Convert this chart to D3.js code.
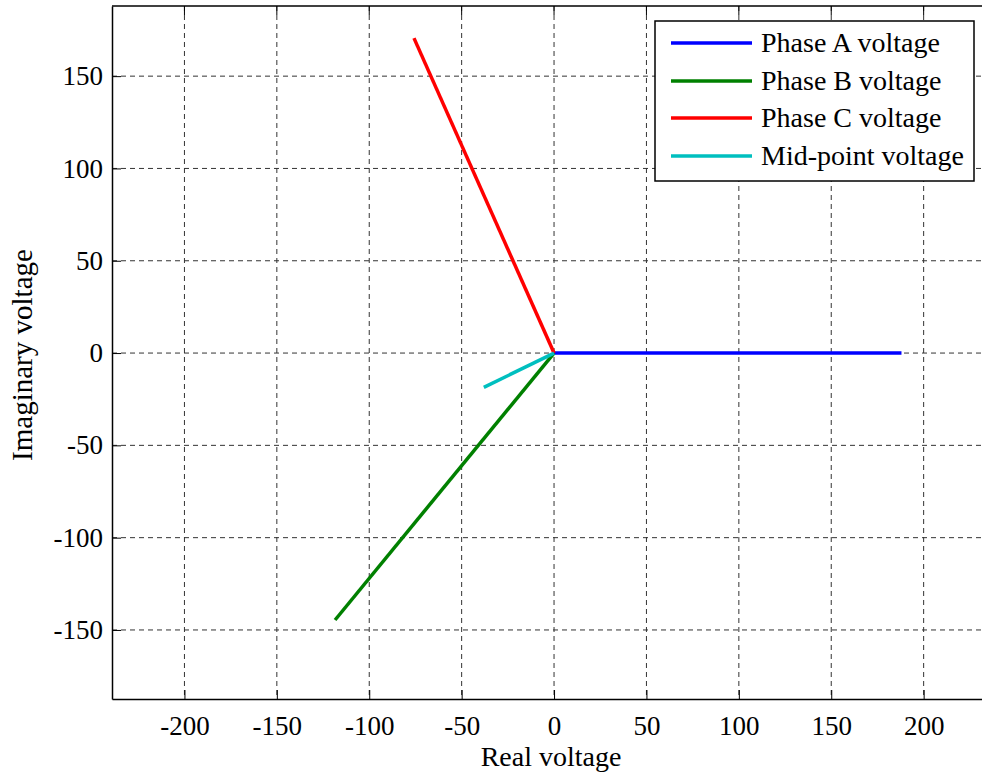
<!DOCTYPE html>
<html>
<head>
<meta charset="utf-8">
<script src="https://cdn.jsdelivr.net/npm/d3@7"></script>
<style>
  body { margin: 0; background: #fff; }
  svg { display: block; font-family: "Liberation Serif", "Times New Roman", serif; }
  svg text { font-family: "Liberation Serif", "Times New Roman", serif; }
</style>
</head>
<body>
<div id="chart-area"></div>
<script>
// phasor end points (start at origin)
const seriesNames = ["Phase A voltage", "Phase B voltage", "Phase C voltage", "Mid-point voltage"];
const seriesColors = ["#0000ff", "#008000", "#ff0000", "#00bfbf"];
const realParts = [188, -118.5, -75.8, -38];
const imagParts = [0, -144.6, 170.6, -18.6];
const xTicks = [-200, -150, -100, -50, 0, 50, 100, 150, 200];
const yTicks = [-150, -100, -50, 0, 50, 100, 150];

const w = 982, h = 775;
const pLeft = 112, pTop = 6, pRight = 985, pBottom = 699;

const svg = d3.select("#chart-area")
  .append("svg")
  .attr("width", w)
  .attr("height", h);

const x = d3.scaleLinear().domain([-239.2, 233.2]).range([pLeft, pRight]);
const y = d3.scaleLinear().domain([-187.4, 188]).range([pBottom, pTop]);

// grid
svg.append("g").selectAll("line")
  .data(xTicks)
  .enter().append("line")
  .attr("x1", d => x(d)).attr("x2", d => x(d))
  .attr("y1", pTop).attr("y2", pBottom)
  .attr("stroke", "#333").attr("stroke-width", 1)
  .attr("stroke-dasharray", "5,4");

svg.append("g").selectAll("line")
  .data(yTicks)
  .enter().append("line")
  .attr("x1", pLeft).attr("x2", pRight)
  .attr("y1", d => y(d)).attr("y2", d => y(d))
  .attr("stroke", "#333").attr("stroke-width", 1)
  .attr("stroke-dasharray", "5,4");

// axes with inward ticks
const fmt = d => String(d);
const xAxis = svg.append("g")
  .attr("transform", "translate(0," + pBottom + ")")
  .call(d3.axisBottom(x).tickValues(xTicks).tickFormat(fmt).tickSize(-9).tickPadding(17).tickSizeOuter(0));
const yAxis = svg.append("g")
  .attr("transform", "translate(" + pLeft + ",0)")
  .call(d3.axisLeft(y).tickValues(yTicks).tickFormat(fmt).tickSize(-9).tickPadding(9).tickSizeOuter(0));

[xAxis, yAxis].forEach(a => {
  a.attr("font-family", null).attr("font-size", 27);
  a.select(".domain").attr("stroke", "#000").attr("stroke-width", 1.5);
  a.selectAll(".tick line").attr("stroke", "#000");
  a.selectAll("text").attr("fill", "#000");
});
xAxis.selectAll("text").attr("dy", "0.71em");

// top border
svg.append("line")
  .attr("x1", pLeft).attr("x2", pRight)
  .attr("y1", pTop).attr("y2", pTop)
  .attr("stroke", "#000").attr("stroke-width", 1.5);
svg.append("g").selectAll("line")
  .data(xTicks).enter().append("line")
  .attr("x1", d => x(d)).attr("x2", d => x(d))
  .attr("y1", pTop).attr("y2", pTop + 9)
  .attr("stroke", "#000");

// phasors
svg.append("g").selectAll("line")
  .data(seriesNames)
  .enter().append("line")
  .attr("x1", x(0)).attr("y1", y(0))
  .attr("x2", (d, i) => x(realParts[i]))
  .attr("y2", (d, i) => y(imagParts[i]))
  .attr("stroke", (d, i) => seriesColors[i])
  .attr("stroke-width", 3.5);

// axis labels
svg.append("text")
  .attr("x", 551).attr("y", 766)
  .attr("text-anchor", "middle")
  .attr("font-size", 28)
  .text("Real voltage");

svg.append("text")
  .attr("transform", "translate(32,355) rotate(-90)")
  .attr("text-anchor", "middle")
  .attr("font-size", 29)
  .text("Imaginary voltage");

// legend
const legend = svg.append("g");
legend.append("rect")
  .attr("x", 655).attr("y", 21)
  .attr("width", 319).attr("height", 160)
  .attr("fill", "#fff").attr("stroke", "#000").attr("stroke-width", 1.5);

const rowY = [43, 81, 118, 156];
legend.selectAll("line.item")
  .data(seriesNames).enter().append("line")
  .attr("x1", 671).attr("x2", 752)
  .attr("y1", (d, i) => rowY[i]).attr("y2", (d, i) => rowY[i])
  .attr("stroke", (d, i) => seriesColors[i])
  .attr("stroke-width", 3.5);

legend.selectAll("text")
  .data(seriesNames).enter().append("text")
  .attr("x", 761)
  .attr("y", (d, i) => rowY[i] + 9)
  .attr("font-size", 28)
  .text(d => d);
</script>
</body>
</html>
